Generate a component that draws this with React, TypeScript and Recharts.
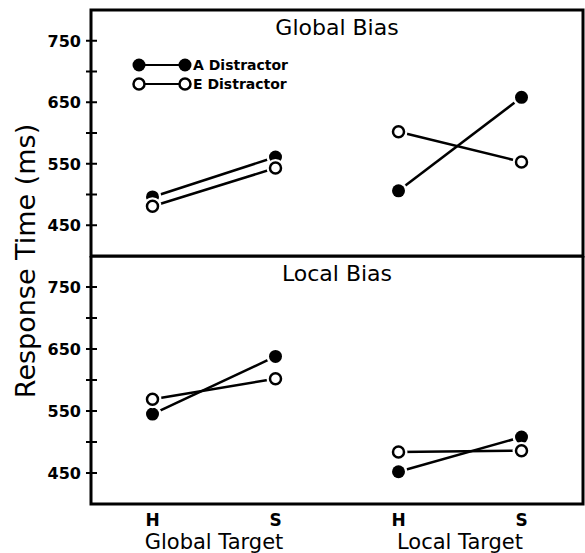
import React from "react";
import {
  LineChart,
  Line,
  XAxis,
  YAxis,
  ReferenceArea,
  Legend,
} from "recharts";

const xCats = ["H", "S", "H", "S"];
const groupLabels = ["Global Target", "Local Target"];
const yTicks = [450, 500, 550, 600, 650, 700, 750];
const yLabelled = [450, 550, 650, 750];
const panelTitles = ["Global Bias", "Local Bias"];
const seriesNames = ["A Distractor", "E Distractor"];

// response times (ms), order: global H, global S, local H, local S
const globalBiasA = [496, 561, 506, 658];
const globalBiasE = [481, 543, 602, 553];
const localBiasA = [545, 638, 452, 508];
const localBiasE = [569, 602, 484, 486];

const FONT = "DejaVu Sans, sans-serif";

// one small data set per target group, so lines break between groups
function segments(a: number[], e: number[]) {
  return [0, 1].map((g) =>
    [0, 1].map((i) => ({ x: g * 2 + i + 1, a: a[g * 2 + i], e: e[g * 2 + i] }))
  );
}

function makeDot(filled: boolean) {
  return (props: any) => {
    const { cx, cy } = props;
    if (cx == null || cy == null) return <g />;
    return (
      <g>
        <circle cx={cx} cy={cy} r={9} fill="#fff" />
        <circle
          cx={cx}
          cy={cy}
          r={filled ? 6.5 : 5.5}
          fill={filled ? "#000" : "#fff"}
          stroke="#000"
          strokeWidth={filled ? 0 : 2.5}
        />
      </g>
    );
  };
}
const filledDot = makeDot(true);
const openDot = makeDot(false);

function YTick({ x, y, payload }: any) {
  const v = payload.value;
  return (
    <g>
      <line x1={x - 5} x2={x + 6} y1={y} y2={y} stroke="#000" strokeWidth={2} />
      {yLabelled.includes(v) && (
        <text
          x={x - 10}
          y={y}
          dy={6}
          textAnchor="end"
          fontFamily={FONT}
          fontWeight="bold"
          fontSize={16}
          fill="#000"
        >
          {v}
        </text>
      )}
    </g>
  );
}

function XTick({ x, y, payload }: any) {
  const v = payload.value;
  if (Number.isInteger(v)) {
    return (
      <text x={x} y={y + 22} textAnchor="middle" fontFamily={FONT} fontWeight="bold" fontSize={17} fill="#000">
        {xCats[v - 1]}
      </text>
    );
  }
  return (
    <text x={x} y={y + 45} textAnchor="middle" fontFamily={FONT} fontSize={21} fill="#000">
      {groupLabels[Math.floor(v) === 1 ? 0 : 1]}
    </text>
  );
}

function LegendBox() {
  return (
    <svg width={220} height={44}>
      {seriesNames.map((name, i) => {
        const cy = 11 + i * 19;
        const filled = i === 0;
        return (
          <g key={name}>
            <line x1={11} x2={57} y1={cy} y2={cy} stroke="#000" strokeWidth={2} />
            {[11, 57].map((cx) => (
              <circle
                key={cx}
                cx={cx}
                cy={cy}
                r={filled ? 6.5 : 5.5}
                fill={filled ? "#000" : "#fff"}
                stroke="#000"
                strokeWidth={filled ? 0 : 2.5}
              />
            ))}
            <text x={65} y={cy + 5} fontFamily={FONT} fontWeight="bold" fontSize={14} fill="#000">
              {name}
            </text>
          </g>
        );
      })}
    </svg>
  );
}

function Panel({
  title,
  a,
  e,
  height,
  margin,
  showX,
  showLegend,
}: {
  title: string;
  a: number[];
  e: number[];
  height: number;
  margin: { top: number; right: number; bottom: number; left: number };
  showX: boolean;
  showLegend: boolean;
}) {
  const segs = segments(a, e);
  return (
    <LineChart width={585} height={height} margin={margin}>
      <XAxis
        dataKey="x"
        type="number"
        domain={[0.5, 4.5]}
        ticks={[1, 1.5, 2, 3, 3.5, 4]}
        hide={!showX}
        height={49}
        axisLine={false}
        tickLine={false}
        tickSize={0}
        tickMargin={0}
        tick={<XTick />}
        interval={0}
        allowDuplicatedCategory={false}
      />
      <YAxis
        type="number"
        domain={[400, 800]}
        ticks={yTicks}
        width={91}
        axisLine={false}
        tickLine={false}
        tickSize={0}
        tickMargin={0}
        tick={<YTick />}
        interval={0}
      />
      <ReferenceArea
        x1={0.5}
        x2={4.5}
        y1={400}
        y2={800}
        fill="none"
        fillOpacity={0}
        stroke="#000"
        strokeWidth={3}
        ifOverflow="visible"
        label={{
          value: title,
          position: "insideTop",
          offset: 9,
          fontFamily: FONT,
          fontSize: 22,
          fill: "#000",
        }}
      />
      {segs.map((d, g) => (
        <Line
          key={"a" + g}
          data={d}
          dataKey="a"
          name={seriesNames[0]}
          stroke="#000"
          strokeWidth={2.5}
          dot={filledDot}
          activeDot={false}
          legendType="none"
          isAnimationActive={false}
        />
      ))}
      {segs.map((d, g) => (
        <Line
          key={"e" + g}
          data={d}
          dataKey="e"
          name={seriesNames[1]}
          stroke="#000"
          strokeWidth={2.5}
          dot={openDot}
          activeDot={false}
          legendType="none"
          isAnimationActive={false}
        />
      ))}
      {showLegend && (
        <Legend
          layout="horizontal"
          verticalAlign="middle"
          align="center"
          content={<LegendBox />}
          wrapperStyle={{ top: 54, left: 128, width: 220, height: 44 }}
        />
      )}
    </LineChart>
  );
}

export default function App() {
  return (
    <div
      style={{
        position: "absolute",
        left: 0,
        top: 0,
        width: 585,
        height: 553,
        background: "#fff",
      }}
    >
      <div style={{ position: "absolute", left: 0, top: 0 }}>
        <Panel
          title={panelTitles[0]}
          a={globalBiasA}
          e={globalBiasE}
          height={258}
          margin={{ top: 10, right: 2, bottom: 2, left: 0 }}
          showX={false}
          showLegend
        />
      </div>
      <div style={{ position: "absolute", left: 0, top: 256 }}>
        <Panel
          title={panelTitles[1]}
          a={localBiasA}
          e={localBiasE}
          height={297}
          margin={{ top: 0, right: 2, bottom: 0, left: 0 }}
          showX
          showLegend={false}
        />
      </div>
      <svg
        width={50}
        height={553}
        style={{ position: "absolute", left: 0, top: 0, pointerEvents: "none" }}
      >
        <text
          x={0}
          y={0}
          transform="translate(35, 261) rotate(-90)"
          textAnchor="middle"
          fontFamily={FONT}
          fontSize={27}
          fill="#000"
        >
          Response Time (ms)
        </text>
      </svg>
    </div>
  );
}
